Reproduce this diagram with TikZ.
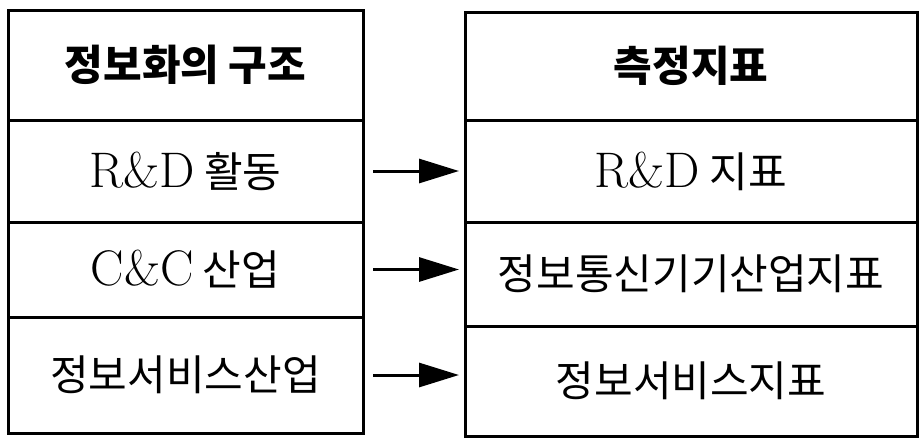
\documentclass[tikz,border=0pt]{standalone}
\usepackage{fontspec}
\newfontfamily\kr{Noto Sans CJK KR}
\usetikzlibrary{positioning}
\usetikzlibrary{arrows.meta}

\tikzset{
  cell/.style={draw, line width=3pt, outer sep=0pt, inner sep=0pt, font=\kr\fontsize{42}{48}\selectfont},
  head/.style={font=\kr\bfseries\fontsize{42}{48}\selectfont},
  lcell/.style={cell, minimum width=355pt},
  rcell/.style={cell, minimum width=452pt},
  link/.style={line width=3pt, -{Triangle[length=40pt,width=24pt]}, shorten <=10pt, shorten >=6pt}
}
\newcommand{\lat}[1]{{\rmfamily\fontsize{50}{56}\selectfont #1}}

\begin{document}
\begin{tikzpicture}[x=1pt,y=1pt]
        \useasboundingbox (0,0) rectangle (921,-440);

        \node[lcell, head, minimum height=110pt, anchor=north west] (l1) at (8,-10) {정보화의 구조};
        \node[lcell, minimum height=102pt, below=0pt of l1] (l2) {\lat{R\&D} 활동};
        \node[lcell, minimum height=95pt, below=0pt of l2] (l3) {\lat{C\&C} 산업};
        \node[lcell, minimum height=116pt, below=0pt of l3] (l4) {정보서비스산업};

        \node[rcell, head, minimum height=108pt, anchor=north west] (r1) at (465,-12) {측정지표};
        \node[rcell, minimum height=102pt, below=0pt of r1] (r2) {\lat{R\&D} 지표};
        \node[rcell, minimum height=104pt, below=0pt of r2] (r3) {정보통신기기산업지표};
        \node[rcell, minimum height=110pt, below=0pt of r3] (r4) {정보서비스지표};

        \draw[link] (l2.east) -- (l2.east -| r2.west);
        \draw[link] (l3.east) -- (l3.east -| r3.west);
        \draw[link] (l4.east) -- (l4.east -| r4.west);
      \end{tikzpicture}
\end{document}
